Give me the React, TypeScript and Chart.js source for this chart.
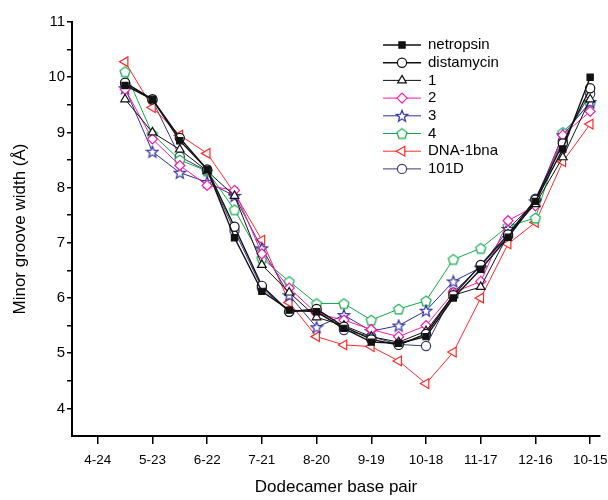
import React, { useEffect, useRef } from 'react';
import { Chart, registerables } from 'chart.js';
import { drawPoint } from 'chart.js/helpers';

Chart.register(...registerables);

const categories = ['4-24', '5-23', '6-22', '7-21', '8-20', '9-19', '10-18', '11-17', '12-16', '10-15'];
const positions = [0.5, 1, 1.5, 2, 2.5, 3, 3.5, 4, 4.5, 5, 5.5, 6, 6.5, 7, 7.5, 8, 8.5, 9];
const yTickValues = [4, 4.5, 5, 5.5, 6, 6.5, 7, 7.5, 8, 8.5, 9, 9.5, 10, 10.5, 11];

const netropsin = [9.85, 9.6, 8.85, 8.33, 7.09, 6.12, 5.78, 5.75, 5.45, 5.2, 5.18, 5.3, 6.0, 6.52, 7.1, 7.75, 8.7, 10.0];
const distamycin = [9.9, 9.6, 8.9, 8.33, 7.29, 6.22, 5.75, 5.8, 5.48, 5.25, 5.15, 5.35, 6.05, 6.6, 7.15, 7.78, 8.8, 9.8];
const comp1 = [9.6, 9.0, 8.69, 8.3, 7.85, 6.6, 6.1, 5.65, 5.5, 5.3, 5.2, 5.4, 6.05, 6.2, 7.15, 7.7, 8.55, 9.6];
const comp2 = [9.78, 8.88, 8.4, 8.04, 7.95, 6.8, 6.18, 5.72, 5.6, 5.43, 5.3, 5.5, 6.1, 6.3, 7.4, 7.67, 8.95, 9.38];
const comp3 = [9.8, 8.65, 8.27, 8.1, 7.85, 6.9, 6.05, 5.47, 5.69, 5.4, 5.5, 5.77, 6.3, 6.55, 7.25, 7.75, 8.95, 9.55];
const comp4 = [10.1, 8.97, 8.5, 8.3, 7.6, 6.72, 6.3, 5.9, 5.9, 5.6, 5.8, 5.95, 6.7, 6.9, 7.3, 7.45, 9.0, 9.52];
const dna1bna = [10.28, 9.45, 8.95, 8.62, 7.9, 7.05, 5.92, 5.3, 5.15, 5.12, 4.86, 4.45, 5.02, 6.0, 6.98, 7.37, 8.47, 9.15];
const d101 = [9.88, 9.58, 8.56, 8.3, 7.22, 6.18, 5.75, 5.78, 5.42, 5.3, 5.16, 5.13, 6.1, 6.58, 7.12, 7.8, 8.85, 9.7];

const FONT = '"Liberation Sans", Arial, Helvetica, sans-serif';

function makePolygonCanvas(color: string, kind: 'star' | 'pentagon') {
  const size = 14;
  const c = document.createElement('canvas');
  c.width = size;
  c.height = size;
  const g = c.getContext('2d')!;
  const cx = size / 2;
  const cy = size / 2 + 0.5;
  g.beginPath();
  if (kind === 'star') {
    for (let k = 0; k < 10; k++) {
      const r = k % 2 === 0 ? 6 : 2.6;
      const a = -Math.PI / 2 + (k * Math.PI) / 5;
      g.lineTo(cx + r * Math.cos(a), cy + r * Math.sin(a));
    }
  } else {
    for (let k = 0; k < 5; k++) {
      const r = 5.3;
      const a = -Math.PI / 2 + (k * 2 * Math.PI) / 5;
      g.lineTo(cx + r * Math.cos(a), cy + r * Math.sin(a));
    }
  }
  g.closePath();
  g.fillStyle = '#ffffff';
  g.fill();
  g.strokeStyle = color;
  g.lineWidth = 1.2;
  g.stroke();
  return c;
}

const legendPlugin = {
  id: 'customLegend',
  afterDraw(chart: any) {
    const ctx = chart.ctx;
    ctx.save();
    chart.data.datasets.forEach((ds: any, i: number) => {
      const y = 45 + i * 17.7;
      ctx.strokeStyle = ds.borderColor;
      ctx.lineWidth = ds.borderWidth;
      ctx.beginPath();
      ctx.moveTo(383, y);
      ctx.lineTo(421, y);
      ctx.stroke();
      ctx.fillStyle = ds.pointBackgroundColor;
      ctx.strokeStyle = ds.pointBorderColor;
      ctx.lineWidth = ds.pointBorderWidth;
      drawPoint(
        ctx,
        {
          pointStyle: ds.pointStyle,
          rotation: ds.pointRotation || 0,
          radius: ds.pointRadius,
          borderWidth: ds.pointBorderWidth,
        } as any,
        402,
        y
      );
      ctx.fillStyle = '#000';
      ctx.font = `15px ${FONT}`;
      ctx.textBaseline = 'middle';
      ctx.textAlign = 'left';
      ctx.fillText(ds.label, 428, y);
    });
    ctx.restore();
  },
};

export default function App() {
  const ref = useRef<HTMLCanvasElement | null>(null);

  useEffect(() => {
    document.body.style.margin = '0';
    const canvas = ref.current;
    if (!canvas) return;
    const star = makePolygonCanvas('#2e2e9e', 'star');
    const pent = makePolygonCanvas('#12aa4a', 'pentagon');

    const mk = (label: string, vals: number[], color: string, style: any, extra: any = {}) => ({
      label,
      data: positions.map((x, i) => ({ x, y: vals[i] })),
      borderColor: color,
      borderWidth: 1,
      pointStyle: style,
      pointRadius: 4.6,
      pointBorderColor: color,
      pointBackgroundColor: '#ffffff',
      pointBorderWidth: 1.2,
      pointRotation: 0,
      tension: 0,
      ...extra,
    });

    const chart = new Chart(canvas, {
      type: 'line',
      data: {
        datasets: [
          mk('netropsin', netropsin, '#111111', 'rect', { pointBackgroundColor: '#111111', borderWidth: 1.4, pointRadius: 4.4 }),
          mk('distamycin', distamycin, '#111111', 'circle', { borderWidth: 1.4 }),
          mk('1', comp1, '#111111', 'triangle', { pointRadius: 5 }),
          mk('2', comp2, '#ff1aa8', 'rectRot', { pointRadius: 5 }),
          mk('3', comp3, '#2e2e9e', star),
          mk('4', comp4, '#12aa4a', pent),
          mk('DNA-1bna', dna1bna, '#ff2a2a', 'triangle', { pointRotation: -90, pointRadius: 5.6 }),
          mk('101D', d101, '#3a3a7a', 'circle'),
        ] as any,
      },
      options: {
        responsive: false,
        animation: false,
        parsing: true,
        layout: { padding: { top: 22, right: 8, left: 0, bottom: 0 } },
        plugins: {
          legend: { display: false },
          tooltip: { enabled: false },
        },
        scales: {
          x: {
            type: 'linear',
            min: -0.47,
            max: 9.18,
            afterBuildTicks: (s: any) => {
              s.ticks = categories.map((_, i) => ({ value: i }));
            },
            afterFit: (s: any) => {
              s.height = 64;
              s.paddingRight = 0;
              s.paddingLeft = 0;
            },
            ticks: {
              autoSkip: false,
              maxRotation: 0,
              padding: 8,
              color: '#000',
              font: { size: 13.5, family: FONT },
              callback: (_v: any, i: number) => categories[i] ?? '',
            },
            grid: { drawOnChartArea: false, drawTicks: true, tickLength: 8, color: '#000', lineWidth: 1.5 },
            border: { display: true, color: '#000', width: 2 },
            title: {
              display: true,
              text: 'Dodecamer base pair',
              color: '#000',
              font: { size: 17, family: FONT },
              padding: { top: 0, bottom: 2 },
            },
          },
          y: {
            type: 'linear',
            min: 3.5,
            max: 11,
            afterBuildTicks: (s: any) => {
              s.ticks = yTickValues.map((v) => ({ value: v }));
            },
            afterFit: (s: any) => {
              s.width = 72;
            },
            ticks: {
              autoSkip: false,
              padding: 2,
              color: '#000',
              font: { size: 15, family: FONT },
              callback: (v: any) => (Number.isInteger(v) ? String(v) : ''),
            },
            grid: { drawOnChartArea: false, drawTicks: true, tickLength: 5, color: '#000', lineWidth: 1.5 },
            border: { display: true, color: '#000', width: 2 },
            title: {
              display: true,
              text: 'Minor groove width (Å)',
              color: '#000',
              font: { size: 17, family: FONT },
              padding: { top: 10, bottom: 0 },
            },
          },
        },
      } as any,
      plugins: [legendPlugin],
    });
    return () => chart.destroy();
  }, []);

  return (
    <div style={{ width: 608, height: 500 }}>
      <canvas ref={ref} width={608} height={500} style={{ display: 'block', width: 608, height: 500 }} />
    </div>
  );
}
